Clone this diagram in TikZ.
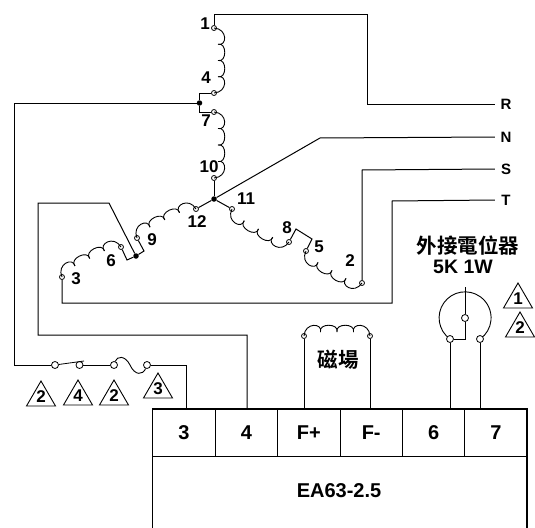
\documentclass[tikz,border=0pt]{standalone}
\usepackage{fontspec}
\setmainfont{Liberation Sans}[BoldFont={Liberation Sans Bold}]
\newfontfamily\cjkfont{Noto Sans CJK TC Bold}
\usetikzlibrary{calc}
\tikzset{
  wire/.style={line width=1pt,black,line join=miter},
  term/.style={circle,draw=black,fill=white,line width=0.8pt,inner sep=0pt,minimum size=5pt},
  bigterm/.style={term,minimum size=7pt},
  joint/.style={circle,fill=black,inner sep=0pt,minimum size=5.5pt},
  lbl/.style={font=\bfseries\fontsize{17}{17}\selectfont,inner sep=0pt},
  line label/.style={font=\bfseries\fontsize{15}{15}\selectfont,inner sep=0pt,minimum width=22pt},
  cell/.style={draw=black,line width=1pt,minimum width=62.4pt,minimum height=47pt,inner sep=0pt,
     font=\bfseries\fontsize{20}{20}\selectfont},
  warn/.style={draw=black,line width=0.9pt,line join=miter},
}
% coil between two named nodes: from, to, bumps, side
\newcommand\coil[4]{%
  \path let \p1=($(#2)-(#1)$), \n1={veclen(\x1,\y1)}, \n2={atan2(\y1,\x1)} in
    \pgfextra{\xdef\coilL{\n1}\xdef\coilA{\n2}};
  \pgfmathsetmacro\coilS{\coilL/#3}
  \begin{scope}[x=1pt,y=#4*1pt,shift={(#1)},rotate=\coilA]
    \foreach \i in {1,...,#3}{
      \pgfmathsetmacro\ua{(\i-1)*\coilS}
      \pgfmathsetmacro\ub{\i*\coilS}
      \pgfmathsetmacro\va{\i==1?0:4}
      \pgfmathsetmacro\vb{\i==#3?0:4}
      \pgfmathsetmacro\ca{\ua-(\i==1?-0.05:0.15)*\coilS}
      \pgfmathsetmacro\cb{\ub+(\i==#3?-0.05:0.15)*\coilS}
      \pgfmathsetmacro\ha{\i==1?14:13}
      \pgfmathsetmacro\hb{\i==#3?14:13}
      \draw[wire,line width=0.9pt] (\ua,\va) .. controls (\ca,\ha) and (\cb,\hb) .. (\ub,\vb);
    }
  \end{scope}
}
\newcommand\warntri[3]{% apex x, apex y, text
  \draw[warn] (#1,#2) -- (#1+14.5,#2+25) -- (#1-14.5,#2+25) -- cycle;
  \node[lbl] at (#1,#2+15.5) {#3};
}
\begin{document}
\begin{tikzpicture}[x=1pt,y=-1pt]
\useasboundingbox (0,0) rectangle (535,527);
% terminals
\node[term] (t1) at (214,28) {};
\node[term] (t4) at (214,93) {};
\node[term] (t7) at (214,112) {};
\node[term] (t10) at (214,178) {};
\node[term] (t12) at (196,209) {};
\node[term] (t9) at (137,238) {};
\node[term] (t6) at (121,247) {};
\node[term] (t3) at (62,277) {};
\node[term] (t11) at (232,209) {};
\node[term] (t8) at (289,242) {};
\node[term] (t5) at (306,251) {};
\node[term] (t2) at (362,283) {};
\node[term] (fa) at (304,336) {};
\node[term] (fb) at (370,336) {};
% joints
\node[joint] (star) at (214,199) {};
\node[joint] (ja) at (199.5,103) {};
\node[joint] (jb) at (136,256) {};
% line labels
\node[line label] (R) at (506,104) {R};
\node[line label] (N) at (506,137) {N};
\node[line label] (S) at (506,169) {S};
\node[line label] (T) at (506,200) {T};
% coils
\coil{t1}{t4}{4}{1}
\coil{t7}{t10}{4}{1}
\coil{t9}{t12}{4}{1}
\coil{t3}{t6}{4}{1}
\coil{t11}{t8}{4}{-1}
\coil{t5}{t2}{4}{-1}
\coil{fa}{fb}{4}{1}
% terminal block
\node[cell] (c3) at (184,432.5) {3};
\node[cell] (c4) at (246.4,432.5) {4};
\node[cell] (cfp) at (308.8,432.5) {F+};
\node[cell] (cfm) at (371.2,432.5) {F-};
\node[cell] (c6) at (433.6,432.5) {6};
\node[cell] (c7) at (496,432.5) {7};
\node[font=\bfseries\fontsize{20}{20}\selectfont] (model) at (339,491) {EA63-2.5};
\draw[line width=1.8pt,black] (152.5,528) -- (152.5,409) -- (527,409) -- (527,528);
% pins on the block
\coordinate (p3) at (186,409);
\coordinate (p4) at (247,409);
\coordinate (pfa) at (304,409);
\coordinate (pfb) at (370,409);
\coordinate (p6) at (450,409);
\coordinate (p7) at (480,409);
% phase R
\draw[wire] (t1) -- (214,15) -- (367,15) -- (367,104) -- (R.west);
% phase N
\draw[wire] (t10) -- (star);
\draw[wire] (star) -- (320,138) -- (N.west);
\draw[wire] (star) -- (t12);
\draw[wire] (star) -- (t11);
% phase S, T
\draw[wire] (t2) -- (362,170) -- (S.west);
\draw[wire] (t3) -- (62,303) -- (392,303) -- (392,201) -- (T.west);
% bridges
\draw[wire] (t4) -- (199.5,93) -- (ja) -- (199.5,112) -- (t7);
\draw[wire] (t9) -- (144,251) -- (jb) -- (127,260) -- (t6);
\draw[wire] (t8) -- (296,229) -- (312,239) -- (t5);
\draw[wire] (jb) -- (109,203) -- (38,203) -- (38,335) -- (247,335) -- (p4);
% switch and fuse
\node[bigterm] (sa) at (55,365) {};
\node[bigterm] (sb) at (79.5,365) {};
\node[bigterm] (fu) at (114,365) {};
\node[bigterm] (fv) at (147,365) {};
\draw[wire] (ja) -- (14,103) -- (14,365) -- (sa);
\draw[wire,line width=0.8pt] (sa) -- (84,361);
\draw[wire] (sb) -- (fu);
\draw[wire,line width=0.9pt] (fu) .. controls (117,356) and (125,355) .. (130,365) .. controls (135,376) and (143,375) .. (fv);
\draw[wire] (fv) -- (186,365) -- (p3);
% field
\draw[wire] (fa) -- (pfa);
\draw[wire] (fb) -- (pfb);
\node[font=\cjkfont\fontsize{20.5}{20.5}\selectfont,inner sep=0pt] (mag) at (338,360) {磁場};
% potentiometer
\coordinate (pac) at (450,339);
\draw[wire,line width=0.9pt] (pac) arc[start angle=125.5,end angle=414.5,radius=26];
\node[bigterm] (pa) at (pac) {};
\node[bigterm] (pb) at (480,339) {};
\node[bigterm] (pw) at (465,318) {};
\coordinate (ptop) at (465,287);
\draw[wire,line width=0.9pt] (ptop) -- (pw);
\draw[wire,line width=0.9pt] (pw) -- (465,339) -- (pa);
\draw[wire] (pa) -- (p6);
\draw[wire] (pb) -- (p7);
\node[font=\cjkfont\fontsize{20.5}{20.5}\selectfont,inner sep=0pt] (potname) at (468,246) {外接電位器};
\node[font=\bfseries\fontsize{19.5}{19.5}\selectfont,inner sep=0pt] (potval) at (463,267) {5K 1W};
% winding numbers
\node[lbl] at (205,24) {1};
\node[lbl] at (206,78) {4};
\node[lbl] at (206,121) {7};
\node[lbl] at (209,167) {10};
\node[lbl] at (246,199) {11};
\node[lbl] at (197,222) {12};
\node[lbl] at (152,240) {9};
\node[lbl] at (111,261) {6};
\node[lbl] at (76,279) {3};
\node[lbl] at (287,228) {8};
\node[lbl] at (319,247) {5};
\node[lbl] at (350,261) {2};
% warning triangles
\warntri{41}{381}{2}
\warntri{78}{380}{4}
\warntri{114}{380}{2}
\warntri{158}{373}{3}
\warntri{518}{283}{1}
\warntri{520}{312}{2}
\end{tikzpicture}
\end{document}
